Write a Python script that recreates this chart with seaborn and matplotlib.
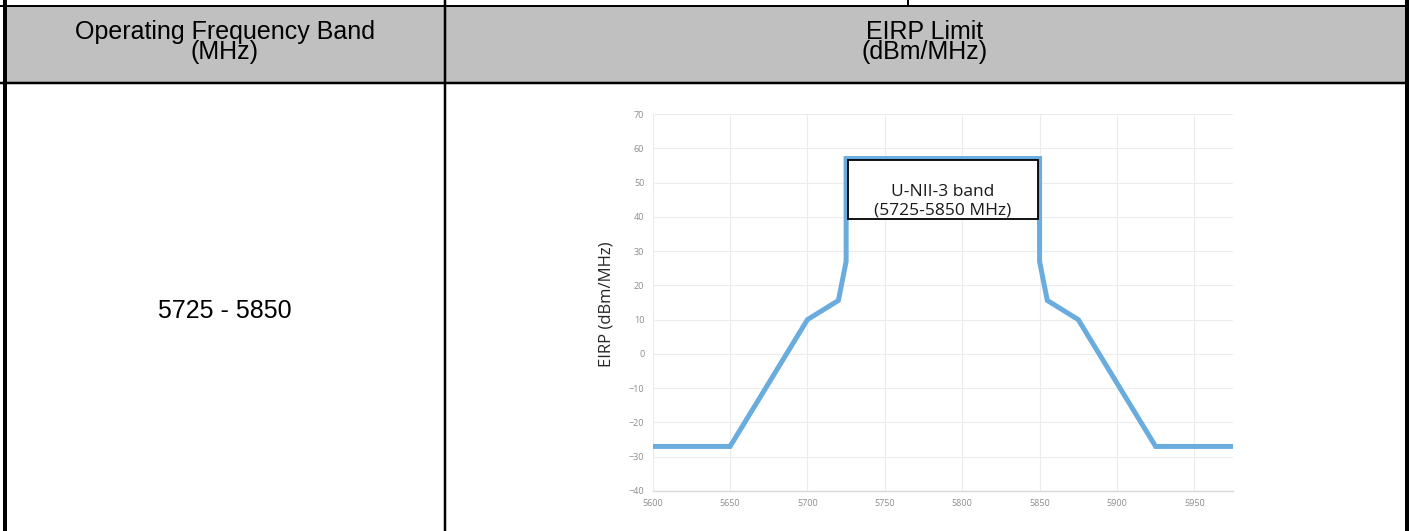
import matplotlib
matplotlib.use("Agg")
import matplotlib.pyplot as plt
import seaborn as sns
import pandas as pd
from matplotlib.patches import Rectangle

# --- data ---
freq_mhz = [5600, 5650, 5700, 5720, 5725, 5725, 5850, 5850, 5855, 5875, 5925, 5975]
eirp_dbm = [-27, -27, 10, 15.6, 27, 57, 57, 27, 15.6, 10, -27, -27]
x_ticks = [5600, 5650, 5700, 5750, 5800, 5850, 5900, 5950]
y_ticks = [-40, -30, -20, -10, 0, 10, 20, 30, 40, 50, 60, 70]
band_label = "5725 - 5850"
band_note = "U-NII-3 band\n(5725-5850 MHz)"
col_headers = ["Operating Frequency Band\n(MHz)", "EIRP Limit\n(dBm/MHz)"]

df = pd.DataFrame({"freq": freq_mhz, "eirp": eirp_dbm})

sns.set_style("white")
plt.rcParams["font.family"] = ["Liberation Sans", "DejaVu Sans"]

W, H = 1409, 531
fig = plt.figure(figsize=(W / 100, H / 100), dpi=100)

# --- table frame, drawn in pixel coordinates ---
bg = fig.add_axes([0, 0, 1, 1])
bg.set_xlim(0, W)
bg.set_ylim(H, 0)
bg.axis("off")

bg.add_patch(Rectangle((5, 6.5), 1401, 76, facecolor="#c0c0c0", edgecolor="none"))
px = 0.72  # points per pixel at 100 dpi
bg.plot([0, W], [6, 6], color="black", lw=2 * px)
bg.plot([0, W], [83, 83], color="black", lw=2.5 * px)
bg.plot([5, 5], [0, H], color="black", lw=4 * px)
bg.plot([1406.5, 1406.5], [0, H], color="black", lw=5 * px)
bg.plot([445, 445], [0, H], color="black", lw=2.5 * px)
bg.plot([908, 908], [0, 6], color="black", lw=2 * px)

bg.text(225, 42, col_headers[0], ha="center", va="center", fontsize=18,
        linespacing=0.82, color="black")
bg.text(925, 42, col_headers[1], ha="center", va="center", fontsize=18,
        linespacing=0.82, color="black")
bg.text(225, 311, band_label, ha="center", va="center", fontsize=18, color="black")

# --- chart inside the right cell ---
left, right, top, bottom = 652.7, 1233, 114, 491
ax = fig.add_axes([left / W, 1 - bottom / H, (right - left) / W, (bottom - top) / H])
sns.lineplot(data=df, x="freq", y="eirp", sort=False, estimator=None, ax=ax,
             color="#6aacde", lw=3.6, solid_joinstyle="miter")

ax.set_xlim(5600, 5975)
ax.set_ylim(-40, 70)
ax.set_xticks(x_ticks)
ax.set_yticks(y_ticks)
ax.grid(True, color="#ececec", lw=0.8)
ax.set_axisbelow(True)
for s in ["top", "right", "left"]:
    ax.spines[s].set_visible(False)
ax.spines["bottom"].set_color("#d9d9d9")
ax.spines["bottom"].set_linewidth(1.0)
ax.tick_params(length=0, labelsize=6.5, labelcolor="#8c8c8c", pad=6)
for lab in ax.get_xticklabels() + ax.get_yticklabels():
    lab.set_family(["Open Sans", "DejaVu Sans"])

ax.set_xlabel("")
ax.set_ylabel("EIRP (dBm/MHz)", fontsize=12, color="#262626",
              family=["Open Sans", "DejaVu Sans"])
ax.yaxis.set_label_coords(-0.066, 0.496)

# annotation box for the band
ax.add_patch(Rectangle((5726, 39.5), 123, 17.0, facecolor="white",
                       edgecolor="black", lw=1.3, zorder=4))
ax.text(5787.5, 44.6, band_note, ha="center", va="center", fontsize=12.5,
        linespacing=1.2, color="#1a1a1a", family=["Open Sans", "DejaVu Sans"], zorder=5)

fig.savefig("out.png", dpi=100)
